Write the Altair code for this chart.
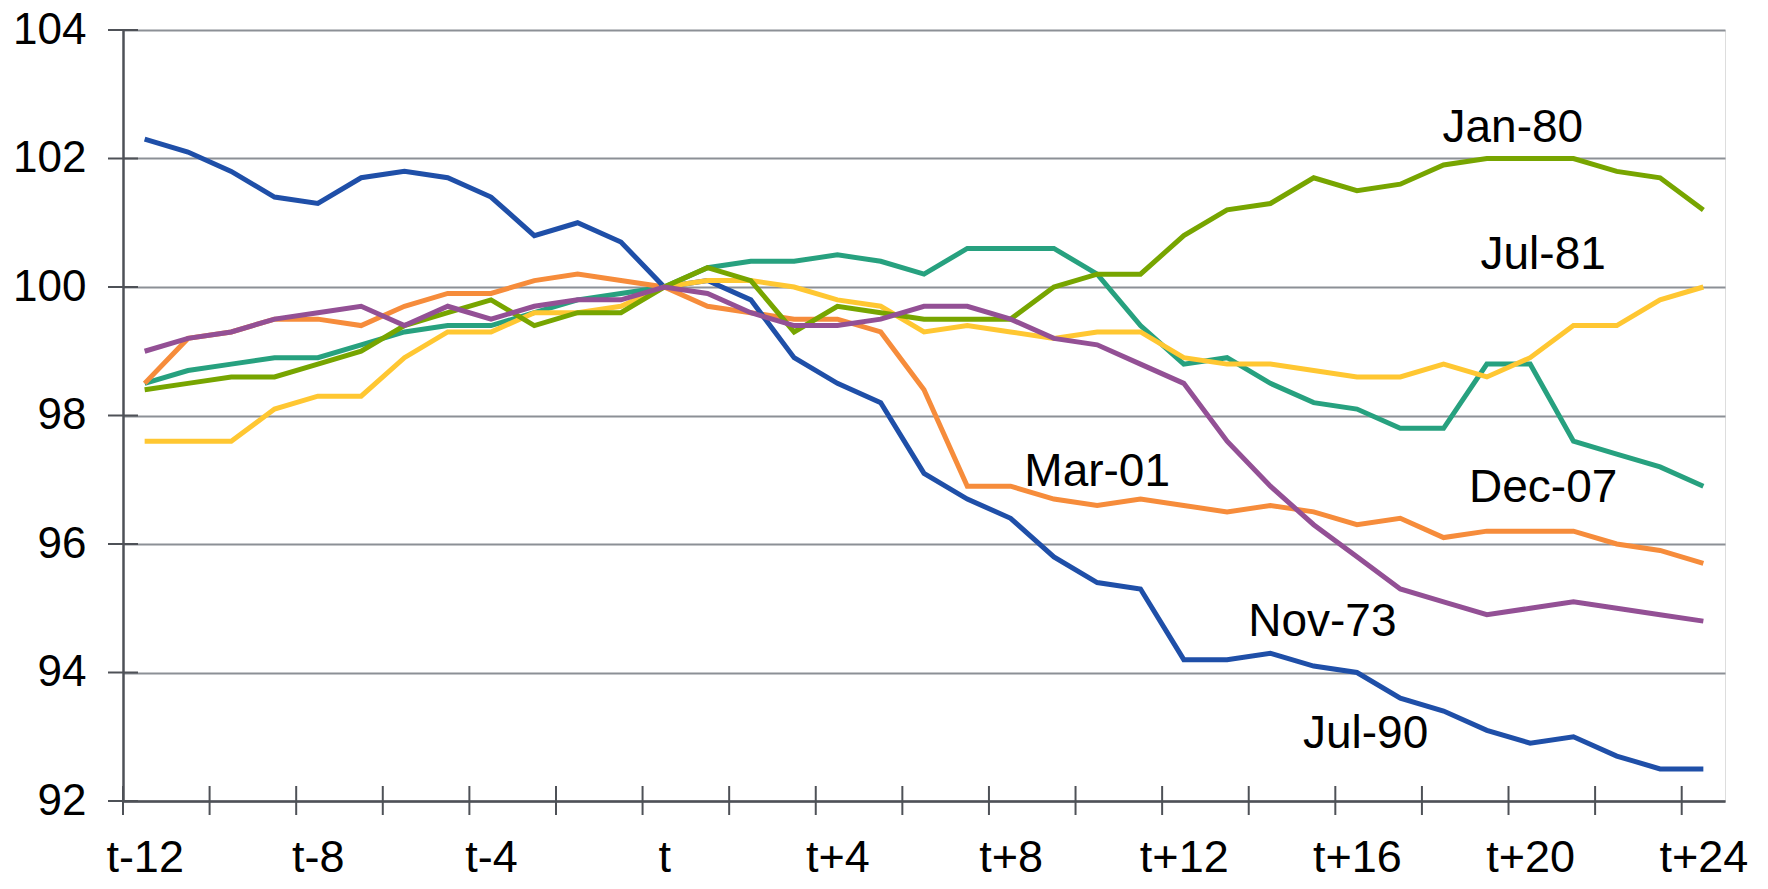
import altair as alt
import pandas as pd

# months relative to t
months = list(range(-12, 25))

jul90 = [102.3, 102.1, 101.8, 101.4, 101.3, 101.7, 101.8, 101.7, 101.4, 100.8, 101.0, 100.7,
         100.0, 100.1, 99.8, 98.9, 98.5, 98.2, 97.1, 96.7, 96.4, 95.8, 95.4, 95.3,
         94.2, 94.2, 94.3, 94.1, 94.0, 93.6, 93.4, 93.1, 92.9, 93.0, 92.7, 92.5, 92.5]
nov73 = [99.0, 99.2, 99.3, 99.5, 99.6, 99.7, 99.4, 99.7, 99.5, 99.7, 99.8, 99.8,
         100.0, 99.9, 99.6, 99.4, 99.4, 99.5, 99.7, 99.7, 99.5, 99.2, 99.1, 98.8,
         98.5, 97.6, 96.9, 96.3, 95.8, 95.3, 95.1, 94.9, 95.0, 95.1, 95.0, 94.9, 94.8]
mar01 = [98.5, 99.2, 99.3, 99.5, 99.5, 99.4, 99.7, 99.9, 99.9, 100.1, 100.2, 100.1,
         100.0, 99.7, 99.6, 99.5, 99.5, 99.3, 98.4, 96.9, 96.9, 96.7, 96.6, 96.7,
         96.6, 96.5, 96.6, 96.5, 96.3, 96.4, 96.1, 96.2, 96.2, 96.2, 96.0, 95.9, 95.7]
dec07 = [98.5, 98.7, 98.8, 98.9, 98.9, 99.1, 99.3, 99.4, 99.4, 99.6, 99.8, 99.9,
         100.0, 100.3, 100.4, 100.4, 100.5, 100.4, 100.2, 100.6, 100.6, 100.6, 100.2, 99.4,
         98.8, 98.9, 98.5, 98.2, 98.1, 97.8, 97.8, 98.8, 98.8, 97.6, 97.4, 97.2, 96.9]
jan80 = [98.4, 98.5, 98.6, 98.6, 98.8, 99.0, 99.4, 99.6, 99.8, 99.4, 99.6, 99.6,
         100.0, 100.3, 100.1, 99.3, 99.7, 99.6, 99.5, 99.5, 99.5, 100.0, 100.2, 100.2,
         100.8, 101.2, 101.3, 101.7, 101.5, 101.6, 101.9, 102.0, 102.0, 102.0, 101.8, 101.7, 101.2]
jul81 = [97.6, 97.6, 97.6, 98.1, 98.3, 98.3, 98.9, 99.3, 99.3, 99.6, 99.6, 99.7,
         100.0, 100.1, 100.1, 100.0, 99.8, 99.7, 99.3, 99.4, 99.3, 99.2, 99.3, 99.3,
         98.9, 98.8, 98.8, 98.7, 98.6, 98.6, 98.8, 98.6, 98.9, 99.4, 99.4, 99.8, 100.0]

# drawing order (bottom to top)
series_names = ["Dec-07", "Mar-01", "Jul-90", "Jul-81", "Jan-80", "Nov-73"]
series_values = [dec07, mar01, jul90, jul81, jan80, nov73]
series_colors = ["#27A17F", "#F68C3B", "#1F4FA8", "#FFC732", "#77A500", "#935095"]

# direct labels
label_names = ["Jan-80", "Jul-81", "Mar-01", "Dec-07", "Nov-73", "Jul-90"]
label_month = [19.6, 20.3, 10.0, 20.3, 15.2, 16.2]
label_value = [102.26, 100.28, 96.9, 96.65, 94.57, 92.83]

tick_values = [-12, -8, -4, 0, 4, 8, 12, 16, 20, 24]
tick_labels = ["t-12", "t-8", "t-4", "t", "t+4", "t+8", "t+12", "t+16", "t+20", "t+24"]
x_tick_marks = [-12.5 + 2 * k for k in range(19)]
y_values = [92, 94, 96, 98, 100, 102, 104]

FONT = "Liberation Sans, Arial, sans-serif"
AXIS = "#4E5157"
GRID = "#8C9096"
W, H = 1602, 771

rows = []
for name, vals in zip(series_names, series_values):
    for m, v in zip(months, vals):
        rows.append({"m": m, "v": v, "series": name})
df = pd.DataFrame(rows)

xscale = alt.Scale(domain=[-12.5, 24.5], nice=False, zero=False)
yscale = alt.Scale(domain=[92, 104], nice=False, zero=False)

label_expr = ""
for tv, tl in zip(tick_values, tick_labels):
    label_expr += f"datum.value == {tv} ? '{tl}' : "
label_expr += "''"

x_axis = alt.Axis(values=tick_values, labelExpr=label_expr, title=None, ticks=False, tickSize=0,
                  grid=False, domainColor=AXIS, domainWidth=2.5, labelFont=FONT, labelFontSize=45,
                  labelColor="black", labelPadding=70, labelBaseline="alphabetic", labelFlush=False)
y_axis = alt.Axis(values=y_values, title=None, ticks=False, tickSize=0, grid=True, gridColor=GRID,
                  gridWidth=2, gridOpacity=1, domainColor=AXIS, domainWidth=2.5, labelFont=FONT,
                  labelFontSize=44, labelColor="black", labelPadding=37)

X = alt.X("m:Q", scale=xscale, axis=x_axis)
Y = alt.Y("v:Q", scale=yscale, axis=y_axis)

layers = []
for name, color in zip(series_names, series_colors):
    layers.append(
        alt.Chart(df).transform_filter(alt.datum.series == name)
        .mark_line(color=color, strokeWidth=5)
        .encode(x=X, y=Y)
    )

xt = alt.Chart(pd.DataFrame({"m": x_tick_marks})).mark_rule(color=AXIS, strokeWidth=2).encode(
    x=X, y=alt.value(H - 15), y2=alt.value(H + 14))
yt = alt.Chart(pd.DataFrame({"v": y_values})).mark_rule(color=AXIS, strokeWidth=2).encode(
    y=Y, x=alt.value(-15), x2=alt.value(15))

labels = alt.Chart(pd.DataFrame({"name": label_names, "m": label_month, "v": label_value})).mark_text(
    font=FONT, fontSize=46, align="center", baseline="alphabetic", color="black"
).encode(x=X, y=Y, text="name:N")

chart = alt.layer(*layers, xt, yt, labels).properties(
    width=W, height=H,
    autosize=alt.AutoSizeParams(type="none"),
    padding={"left": 115, "top": 22, "right": 35, "bottom": 80},
).configure_view(stroke=GRID, strokeWidth=2).configure(background="white")

chart.save("out.html", embed_options={"renderer": "svg", "actions": False})
